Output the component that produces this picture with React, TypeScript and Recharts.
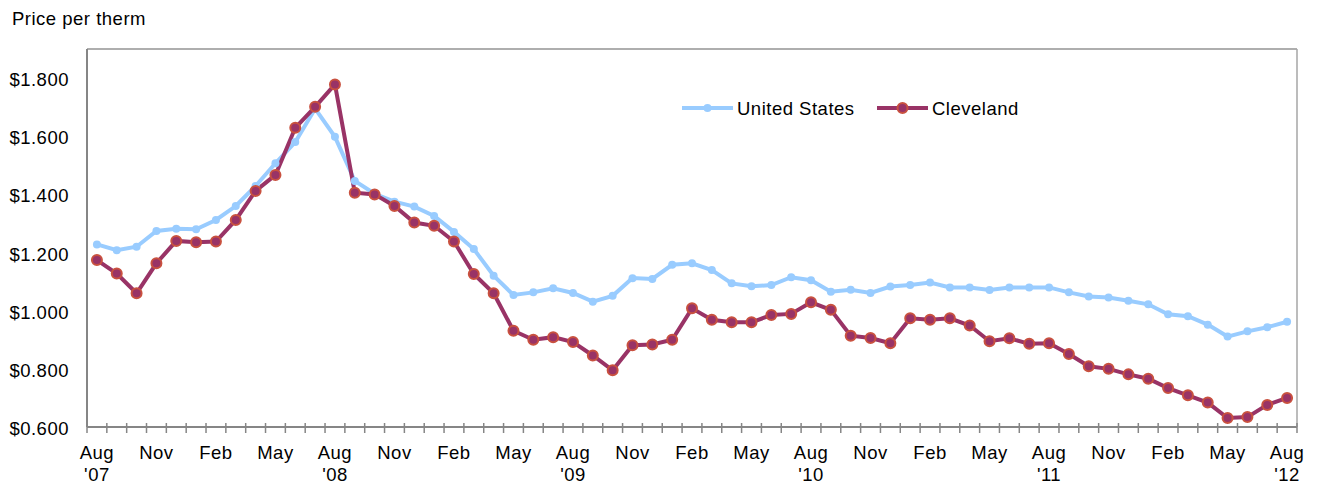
import React from 'react';
import { LineChart, Line, XAxis, YAxis, CartesianGrid, ReferenceLine, Legend } from 'recharts';

const categories = [
  "Aug '07", "Sep '07", "Oct '07", "Nov '07", "Dec '07",
  "Jan '08", "Feb '08", "Mar '08", "Apr '08", "May '08", "Jun '08", "Jul '08", "Aug '08", "Sep '08", "Oct '08", "Nov '08", "Dec '08",
  "Jan '09", "Feb '09", "Mar '09", "Apr '09", "May '09", "Jun '09", "Jul '09", "Aug '09", "Sep '09", "Oct '09", "Nov '09", "Dec '09",
  "Jan '10", "Feb '10", "Mar '10", "Apr '10", "May '10", "Jun '10", "Jul '10", "Aug '10", "Sep '10", "Oct '10", "Nov '10", "Dec '10",
  "Jan '11", "Feb '11", "Mar '11", "Apr '11", "May '11", "Jun '11", "Jul '11", "Aug '11", "Sep '11", "Oct '11", "Nov '11", "Dec '11",
  "Jan '12", "Feb '12", "Mar '12", "Apr '12", "May '12", "Jun '12", "Jul '12", "Aug '12",
];

const unitedStates = [
  1.228, 1.208, 1.220, 1.274, 1.282,
  1.280, 1.312, 1.360, 1.429, 1.507, 1.580, 1.695, 1.598, 1.446, 1.402, 1.375, 1.358,
  1.326, 1.271, 1.212, 1.120, 1.054, 1.063, 1.077, 1.061, 1.031, 1.051, 1.112, 1.109,
  1.158, 1.163, 1.140, 1.094, 1.084, 1.088, 1.115, 1.105, 1.065, 1.072, 1.061, 1.083,
  1.088, 1.097, 1.080, 1.080, 1.071, 1.080, 1.080, 1.080, 1.063, 1.049, 1.045, 1.034,
  1.022, 0.988, 0.981, 0.952, 0.911, 0.929, 0.943, 0.962,
];

const cleveland = [
  1.174, 1.128, 1.060, 1.163, 1.240,
  1.235, 1.238, 1.312, 1.412, 1.467, 1.629, 1.701, 1.778, 1.406, 1.400, 1.360, 1.303,
  1.292, 1.238, 1.126, 1.060, 0.931, 0.900, 0.909, 0.892, 0.846, 0.795, 0.881, 0.884,
  0.900, 1.008, 0.969, 0.960, 0.960, 0.985, 0.989, 1.029, 1.003, 0.914, 0.906, 0.888,
  0.974, 0.969, 0.974, 0.949, 0.895, 0.905, 0.886, 0.888, 0.851, 0.809, 0.800, 0.781,
  0.766, 0.734, 0.709, 0.684, 0.631, 0.634, 0.676, 0.700,
];

const yTicks = [0.6, 0.8, 1.0, 1.2, 1.4, 1.6, 1.8];
const labeledMonths = ['Aug', 'Nov', 'Feb', 'May'];

const data = categories.map((c, i) => ({ month: c, us: unitedStates[i], cle: cleveland[i] }));

const FONT = '"Liberation Sans", Arial, sans-serif';
const FS = 18.5;
const LS = 0.5;
const US_COLOR = '#99CCFF';
const CLE_COLOR = '#993366';
const CLE_EDGE = '#C9513F';
const AXIS_COLOR = '#868686';
const GRID_COLOR = '#B2B2B2';

const W = 1317;
const H = 487;
const PLOT_LEFT = 87;
const PLOT_RIGHT = 1297;
const BAND = (PLOT_RIGHT - PLOT_LEFT) / categories.length;

const XTick = (props: any) => {
  const { x, y, payload, index } = props;
  const [m, yr] = String(payload.value).split(' ');
  const last = index === categories.length - 1;
  return (
    <g>
      <line x1={x - BAND / 2} x2={x - BAND / 2} y1={y - 4} y2={y + 6} stroke={AXIS_COLOR} strokeWidth={1.5} />
      {last && (
        <line x1={x + BAND / 2} x2={x + BAND / 2} y1={y - 4} y2={y + 6} stroke={AXIS_COLOR} strokeWidth={1.5} />
      )}
      {labeledMonths.includes(m) && (
        <text x={x} y={y + 32} textAnchor="middle" fontSize={FS} letterSpacing={LS} fontFamily={FONT} fill="#000">{m}</text>
      )}
      {m === 'Aug' && (
        <text x={x} y={y + 54} textAnchor="middle" fontSize={FS} letterSpacing={LS} fontFamily={FONT} fill="#000">{yr}</text>
      )}
    </g>
  );
};

const YTick = (props: any) => {
  const { x, y, payload } = props;
  return (
    <text x={x} y={y + 8} textAnchor="end" fontSize={FS} letterSpacing={LS} fontFamily={FONT} fill="#000">
      {'$' + Number(payload.value).toFixed(3)}
    </text>
  );
};

const LegendContent = () => (
  <svg width={W} height={30} style={{ display: 'block' }}>
    <line x1={682} x2={733} y1={15} y2={15} stroke={US_COLOR} strokeWidth={4} />
    <circle cx={707.5} cy={15} r={4} fill={US_COLOR} />
    <text x={737} y={21.5} fontSize={FS} letterSpacing={LS} fontFamily={FONT} fill="#000">United States</text>
    <line x1={877} x2={928} y1={15} y2={15} stroke={CLE_COLOR} strokeWidth={4} />
    <circle cx={902.5} cy={15} r={5} fill={CLE_COLOR} stroke={CLE_EDGE} strokeWidth={2} />
    <text x={932} y={21.5} fontSize={FS} letterSpacing={LS} fontFamily={FONT} fill="#000">Cleveland</text>
  </svg>
);

const TitleLabel = () => (
  <text x={12} y={25} fontSize={FS} letterSpacing={LS} fontFamily={FONT} fill="#000">Price per therm</text>
);

export default function App() {
  return (
    <div style={{ position: 'absolute', left: 0, top: 0, width: W, height: H, background: '#fff' }}>
      <LineChart width={W} height={H} data={data} margin={{ top: 49, right: 0, bottom: 0, left: 0 }}>
        <CartesianGrid vertical={false} stroke={GRID_COLOR} strokeWidth={1.5} />
        <XAxis
          dataKey="month"
          scale="band"
          interval={0}
          height={60}
          tickLine={false}
          tickSize={0}
          tickMargin={0}
          axisLine={{ stroke: AXIS_COLOR, strokeWidth: 2 }}
          tick={<XTick />}
        />
        <YAxis
          yAxisId="left"
          width={87}
          domain={[0.6, 1.9]}
          ticks={yTicks}
          tickLine={false}
          tickSize={6}
          tickMargin={12}
          axisLine={{ stroke: AXIS_COLOR, strokeWidth: 2 }}
          tick={<YTick />}
          label={<TitleLabel />}
        />
        <YAxis
          yAxisId="right"
          orientation="right"
          width={20}
          domain={[0, 1]}
          tick={false}
          tickLine={false}
          axisLine={{ stroke: '#A6A6A6', strokeWidth: 1.5 }}
        />
        <ReferenceLine yAxisId="left" y={1.9} stroke="#A6A6A6" strokeWidth={1.5} />
        <Legend
          verticalAlign="middle"
          layout="horizontal"
          align="center"
          content={<LegendContent />}
          wrapperStyle={{ position: 'absolute', left: 0, top: 93, width: W, height: 30 }}
        />
        <Line
          yAxisId="left"
          dataKey="us"
          name="United States"
          stroke={US_COLOR}
          strokeWidth={4}
          dot={{ r: 4, fill: US_COLOR, stroke: US_COLOR, strokeWidth: 0 }}
          activeDot={false}
          isAnimationActive={false}
        />
        <Line
          yAxisId="left"
          dataKey="cle"
          name="Cleveland"
          stroke={CLE_COLOR}
          strokeWidth={4}
          dot={{ r: 5, fill: CLE_COLOR, stroke: CLE_EDGE, strokeWidth: 2 }}
          activeDot={false}
          isAnimationActive={false}
        />
      </LineChart>
    </div>
  );
}
